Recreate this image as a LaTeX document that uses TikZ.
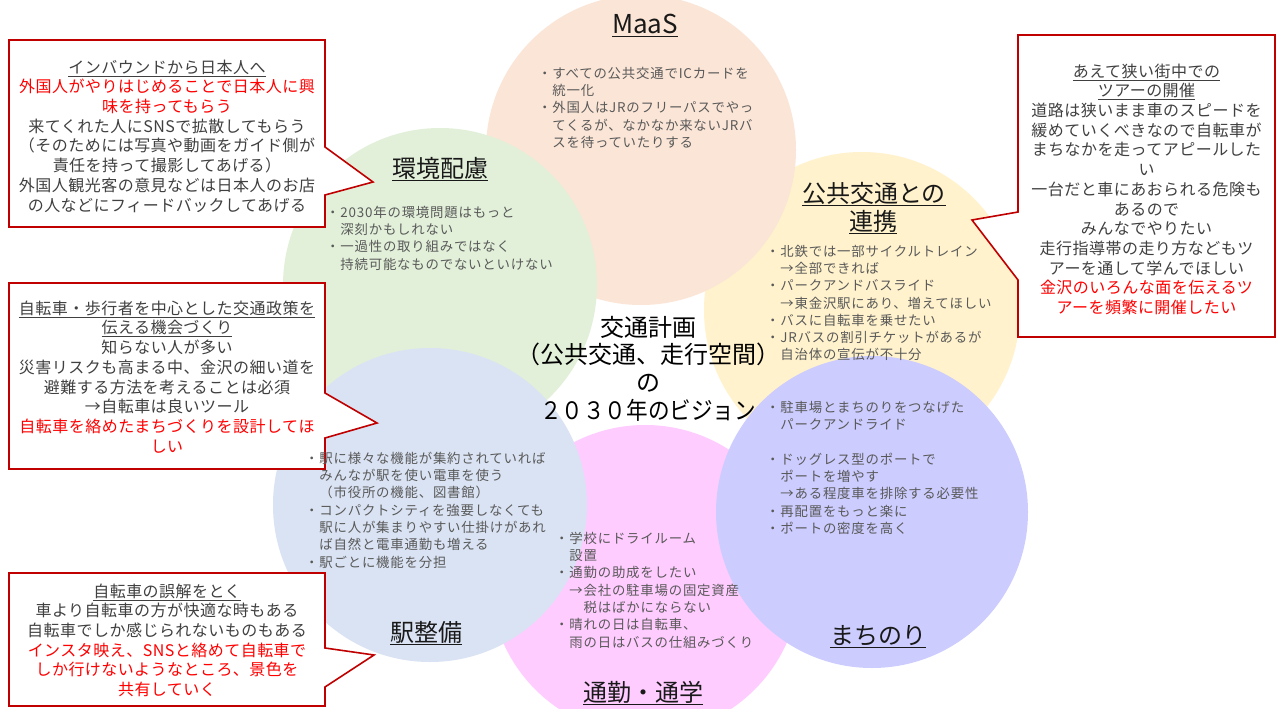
\documentclass[tikz,border=0pt]{standalone}
\usepackage{fontspec}
\setmainfont{Noto Sans CJK JP}
\newfontfamily\bodyfont[LetterSpace=6]{Noto Sans CJK JP}
\newfontfamily\calloutfont[LetterSpace=3]{Noto Sans CJK JP}
\definecolor{peach}{HTML}{FBE5D6}
\definecolor{leaf}{HTML}{E2F0D9}
\definecolor{cream}{HTML}{FFF2CC}
\definecolor{skyblue}{HTML}{DAE3F3}
\definecolor{lav}{HTML}{CCCCFF}
\definecolor{rose}{HTML}{FFCCFF}
\definecolor{calloutred}{HTML}{C00000}
\definecolor{ctext}{HTML}{404040}
\definecolor{btext}{HTML}{595959}
\definecolor{redtext}{HTML}{FF0000}
\tikzset{
  circ/.style={circle, draw=none, inner sep=0pt, minimum size=#1},
  callout/.style={draw=calloutred, fill=white, line width=1.6pt, line join=miter},
  ctxt/.style={anchor=north, align=center, inner sep=0pt, text=ctext,
    font=\calloutfont\fontsize{16}{19.7}\selectfont},
  btxt/.style={anchor=north west, align=left, inner sep=0pt, text=btext,
    font=\bodyfont\fontsize{13.4}{17.3}\selectfont},
  ttl/.style={anchor=base, inner sep=0pt, text=black!90,
    font=\fontsize{24}{28}\selectfont},
  ctr/.style={anchor=north, align=center, inner sep=0pt, text=black,
    font=\fontsize{24}{27.7}\selectfont},
}
\newcommand{\rd}[1]{\textcolor{redtext}{#1}}
\begin{document}
\begin{tikzpicture}[x=1pt,y=-1pt]
\useasboundingbox (0,0) rectangle (1277,709);
\fill[white] (0,0) rectangle (1277,709);
% circles
\node[circ=310pt, fill=rose] (kpink) at (645,580) {};
\node[circ=316pt, fill=cream] (kyel) at (862,310) {};
\node[circ=312pt, fill=lav] (klav) at (872,512) {};
\node[circ=310pt, fill=peach] (kmaas) at (641,150) {};
\node[circ=314pt, fill=leaf] (kgreen) at (440,285) {};
\node[circ=314pt, fill=skyblue] (kblue) at (430,505) {};
% callouts
\draw[callout] (9,40) -- (325,40) -- (325,147) -- (373,182) -- (325,195) -- (325,227) -- (9,227) -- cycle;
\draw[callout] (9,283) -- (325,283) -- (325,393) -- (377,423) -- (325,438) -- (325,469) -- (9,469) -- cycle;
\draw[callout] (9,573) -- (325,573) -- (325,648) -- (374,655) -- (325,687) -- (325,706) -- (9,706) -- cycle;
\draw[callout] (1018,35) -- (1275,35) -- (1275,337) -- (1018,337) -- (1018,280) -- (972,220) -- (1018,212) -- cycle;
% callout texts
\node[ctxt] (c1) at (167,59.5) {\underline{インバウンドから日本人へ}\\
\rd{外国人がやりはじめることで日本人に興}\\
\rd{味を持ってもらう}\\
来てくれた人にSNSで拡散してもらう\\
（そのためには写真や動画をガイド側が\\
責任を持って撮影してあげる）\\
外国人観光客の意見などは日本人のお店\\
の人などにフィードバックしてあげる};
\node[ctxt] (c2) at (167,300.5) {\underline{自転車・歩行者を中心とした交通政策を}\\
\underline{伝える機会づくり}\\
知らない人が多い\\
災害リスクも高まる中、金沢の細い道を\\
避難する方法を考えることは必須\\
→自転車は良いツール\\
\rd{自転車を絡めたまちづくりを設計してほ}\\
\rd{しい}};
\node[ctxt] (c3) at (167,583.5) {\underline{自転車の誤解をとく}\\
車より自転車の方が快適な時もある\\
自転車でしか感じられないものもある\\
\rd{インスタ映え、SNSと絡めて自転車で}\\
\rd{しか行けないようなところ、景色を}\\
\rd{共有していく}};
\node[ctxt] (c4) at (1146.5,63.5) {\underline{あえて狭い街中での}\\
\underline{ツアーの開催}\\
道路は狭いまま車のスピードを\\
緩めていくべきなので自転車が\\
まちなかを走ってアピールした\\
い\\
一台だと車にあおられる危険も\\
あるので\\
みんなでやりたい\\
走行指導帯の走り方などもツ\\
アーを通して学んでほしい\\
\rd{金沢のいろんな面を伝えるツ}\\
\rd{アーを頻繁に開催したい}};
% titles
\node[ttl, font=\fontsize{26}{30}\selectfont] (tmaas) at (645,34) {\underline{MaaS}};
\node[ttl] (tgreen) at (440,177) {\underline{環境配慮}};
\node[ttl] (tyel1) at (874,202) {\underline{公共交通との}};
\node[ttl] (tyel2) at (873,230) {\underline{連携}};
\node[ttl] (tblue) at (426,641) {\underline{駅整備}};
\node[ttl] (tlav) at (878,644) {\underline{まちのり}};
\node[ttl] (tpink) at (643,701) {\underline{通勤・通学}};
% centre
\node[ctr] (centre) at (648,315.7) {交通計画\\（公共交通、走行空間）\\の\\\scalebox{0.9}[1]{２０３０年のビジョン}};
% bodies
\node[btxt] (bmaas) at (538,66.7) {・すべての公共交通でICカードを\\
　統一化\\
・外国人はJRのフリーパスでやっ\\
　てくるが、なかなか来ないJRバ\\
　スを待っていたりする};
\node[btxt] (bgreen) at (326,205.7) {・2030年の環境問題はもっと\\
　深刻かもしれない\\
・一過性の取り組みではなく\\
　持続可能なものでないといけない};
\node[btxt] (byel) at (766,244.7) {・北鉄では一部サイクルトレイン\\
　→全部できれば\\
・パークアンドバスライド\\
　→東金沢駅にあり、増えてほしい\\
・バスに自転車を乗せたい\\
・JRバスの割引チケットがあるが\\
　自治体の宣伝が不十分};
\node[btxt] (bblue) at (305,451.7) {・駅に様々な機能が集約されていれば\\
　みんなが駅を使い電車を使う\\
　（市役所の機能、図書館）\\
・コンパクトシティを強要しなくても\\
　駅に人が集まりやすい仕掛けがあれ\\
　ば自然と電車通勤も増える\\
・駅ごとに機能を分担};
\node[btxt] (blav) at (766,400.7) {・駐車場とまちのりをつなげた\\
　パークアンドライド\\[17.3pt]
・ドッグレス型のポートで\\
　ポートを増やす\\
　→ある程度車を排除する必要性\\
・再配置をもっと楽に\\
・ポートの密度を高く};
\node[btxt] (bpink) at (555,531.7) {・学校にドライルーム\\
　設置\\
・通勤の助成をしたい\\
　→会社の駐車場の固定資産\\
　　税はばかにならない\\
・晴れの日は自転車、\\
　雨の日はバスの仕組みづくり};
\end{tikzpicture}
\end{document}
